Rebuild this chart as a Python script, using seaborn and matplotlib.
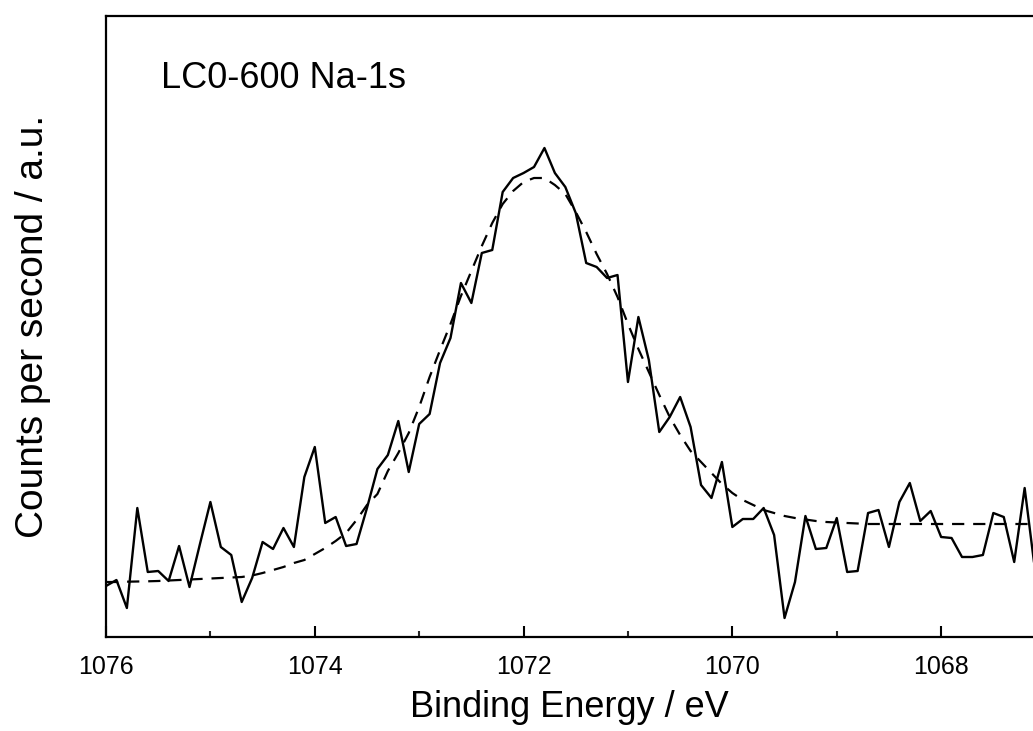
import numpy as np
import pandas as pd
import matplotlib
matplotlib.use("Agg")
import matplotlib.pyplot as plt
import seaborn as sns
from matplotlib.ticker import MultipleLocator

# Binding energies (eV), 0.1 eV steps from 1076.0 down to 1067.1
energy = [round(1076.0 - 0.1 * i, 1) for i in range(90)]

# Measured spectrum (arbitrary counts units)
counts = [51, 57, 29, 129, 65, 66, 56, 91, 50, 93,
          135, 90, 82, 35, 59, 95, 88, 109, 90, 160,
          190, 114, 120, 91, 93, 129, 168, 182, 216, 165,
          213, 223, 274, 299, 354, 334, 384, 387, 445, 459,
          464, 470, 489, 464, 450, 424, 374, 370, 359, 362,
          255, 320, 277, 205, 220, 240, 210, 152, 139, 175,
          110, 118, 118, 129, 102, 19, 55, 121, 88, 89,
          119, 65, 66, 124, 127, 90, 135, 154, 116, 126,
          100, 99, 80, 80, 82, 124, 120, 75, 149, 66]

# Fitted envelope (arbitrary counts units)
fit = [55, 55, 55.3, 55.5, 55.7, 56, 56.5, 57, 57.5, 58,
       58.5, 59, 59.5, 60, 61.5, 64, 67, 70, 74, 77,
       83, 89, 96, 104, 117, 132, 143, 166, 184, 204,
       230, 260, 287, 313, 341, 366, 391, 414, 433, 446,
       455, 459, 459, 452, 443, 425, 405, 383, 363, 340,
       313, 288, 265, 242, 220, 202, 186, 175, 164, 153,
       144, 137, 132, 127, 124, 121, 119, 117.5, 116, 115,
       114.5, 114, 113.5, 113, 113, 113, 113, 113, 113, 113,
       113, 113, 113, 113, 113, 113, 113, 113, 113, 113]

major_ticks = [1076, 1074, 1072, 1070, 1068]
sample_label = "LC0-600 Na-1s"

df = pd.DataFrame({"energy": energy, "counts": counts, "fit": fit})

sns.set_theme(style="ticks")
plt.rcParams["font.family"] = ["Liberation Sans", "DejaVu Sans"]

fig = plt.figure(figsize=(10.33, 7.31), dpi=100)
ax = fig.add_axes([106 / 1033, 1 - 637 / 731, 1 - 106 / 1033, (637 - 16) / 731])

sns.lineplot(data=df, x="energy", y="counts", ax=ax, color="black",
             linewidth=1.7, sort=False)
sns.lineplot(data=df, x="energy", y="fit", ax=ax, color="black",
             linewidth=1.6, sort=False, dashes=False)
ax.lines[-1].set_dashes((5.5, 4))

ax.set_xlim(1076, 1067.12)
ax.set_ylim(0, 621)

ax.set_xticks(major_ticks)
ax.set_xticklabels([str(t) for t in major_ticks])
ax.xaxis.set_minor_locator(MultipleLocator(1))
ax.tick_params(axis="x", which="major", direction="in", length=8, width=1.5,
               labelsize=18, pad=13, colors="black")
ax.tick_params(axis="x", which="minor", direction="in", length=4.5, width=1.5)
ax.tick_params(axis="y", left=False, labelleft=False)
ax.set_yticks([])

for side in ["left", "bottom", "top"]:
    ax.spines[side].set_linewidth(1.6)
    ax.spines[side].set_color("black")
ax.spines["right"].set_visible(False)

ax.set_xlabel("Binding Energy / eV", fontsize=26, labelpad=8, color="black")
ax.set_ylabel("Counts per second / a.u.", fontsize=28, color="black")
ax.yaxis.set_label_coords((51 - 106) / 927, 0.5)

ax.text(1075.47, 558, sample_label, fontsize=26, color="black",
        ha="left", va="center")

fig.savefig("out.png", dpi=100, facecolor="white")
